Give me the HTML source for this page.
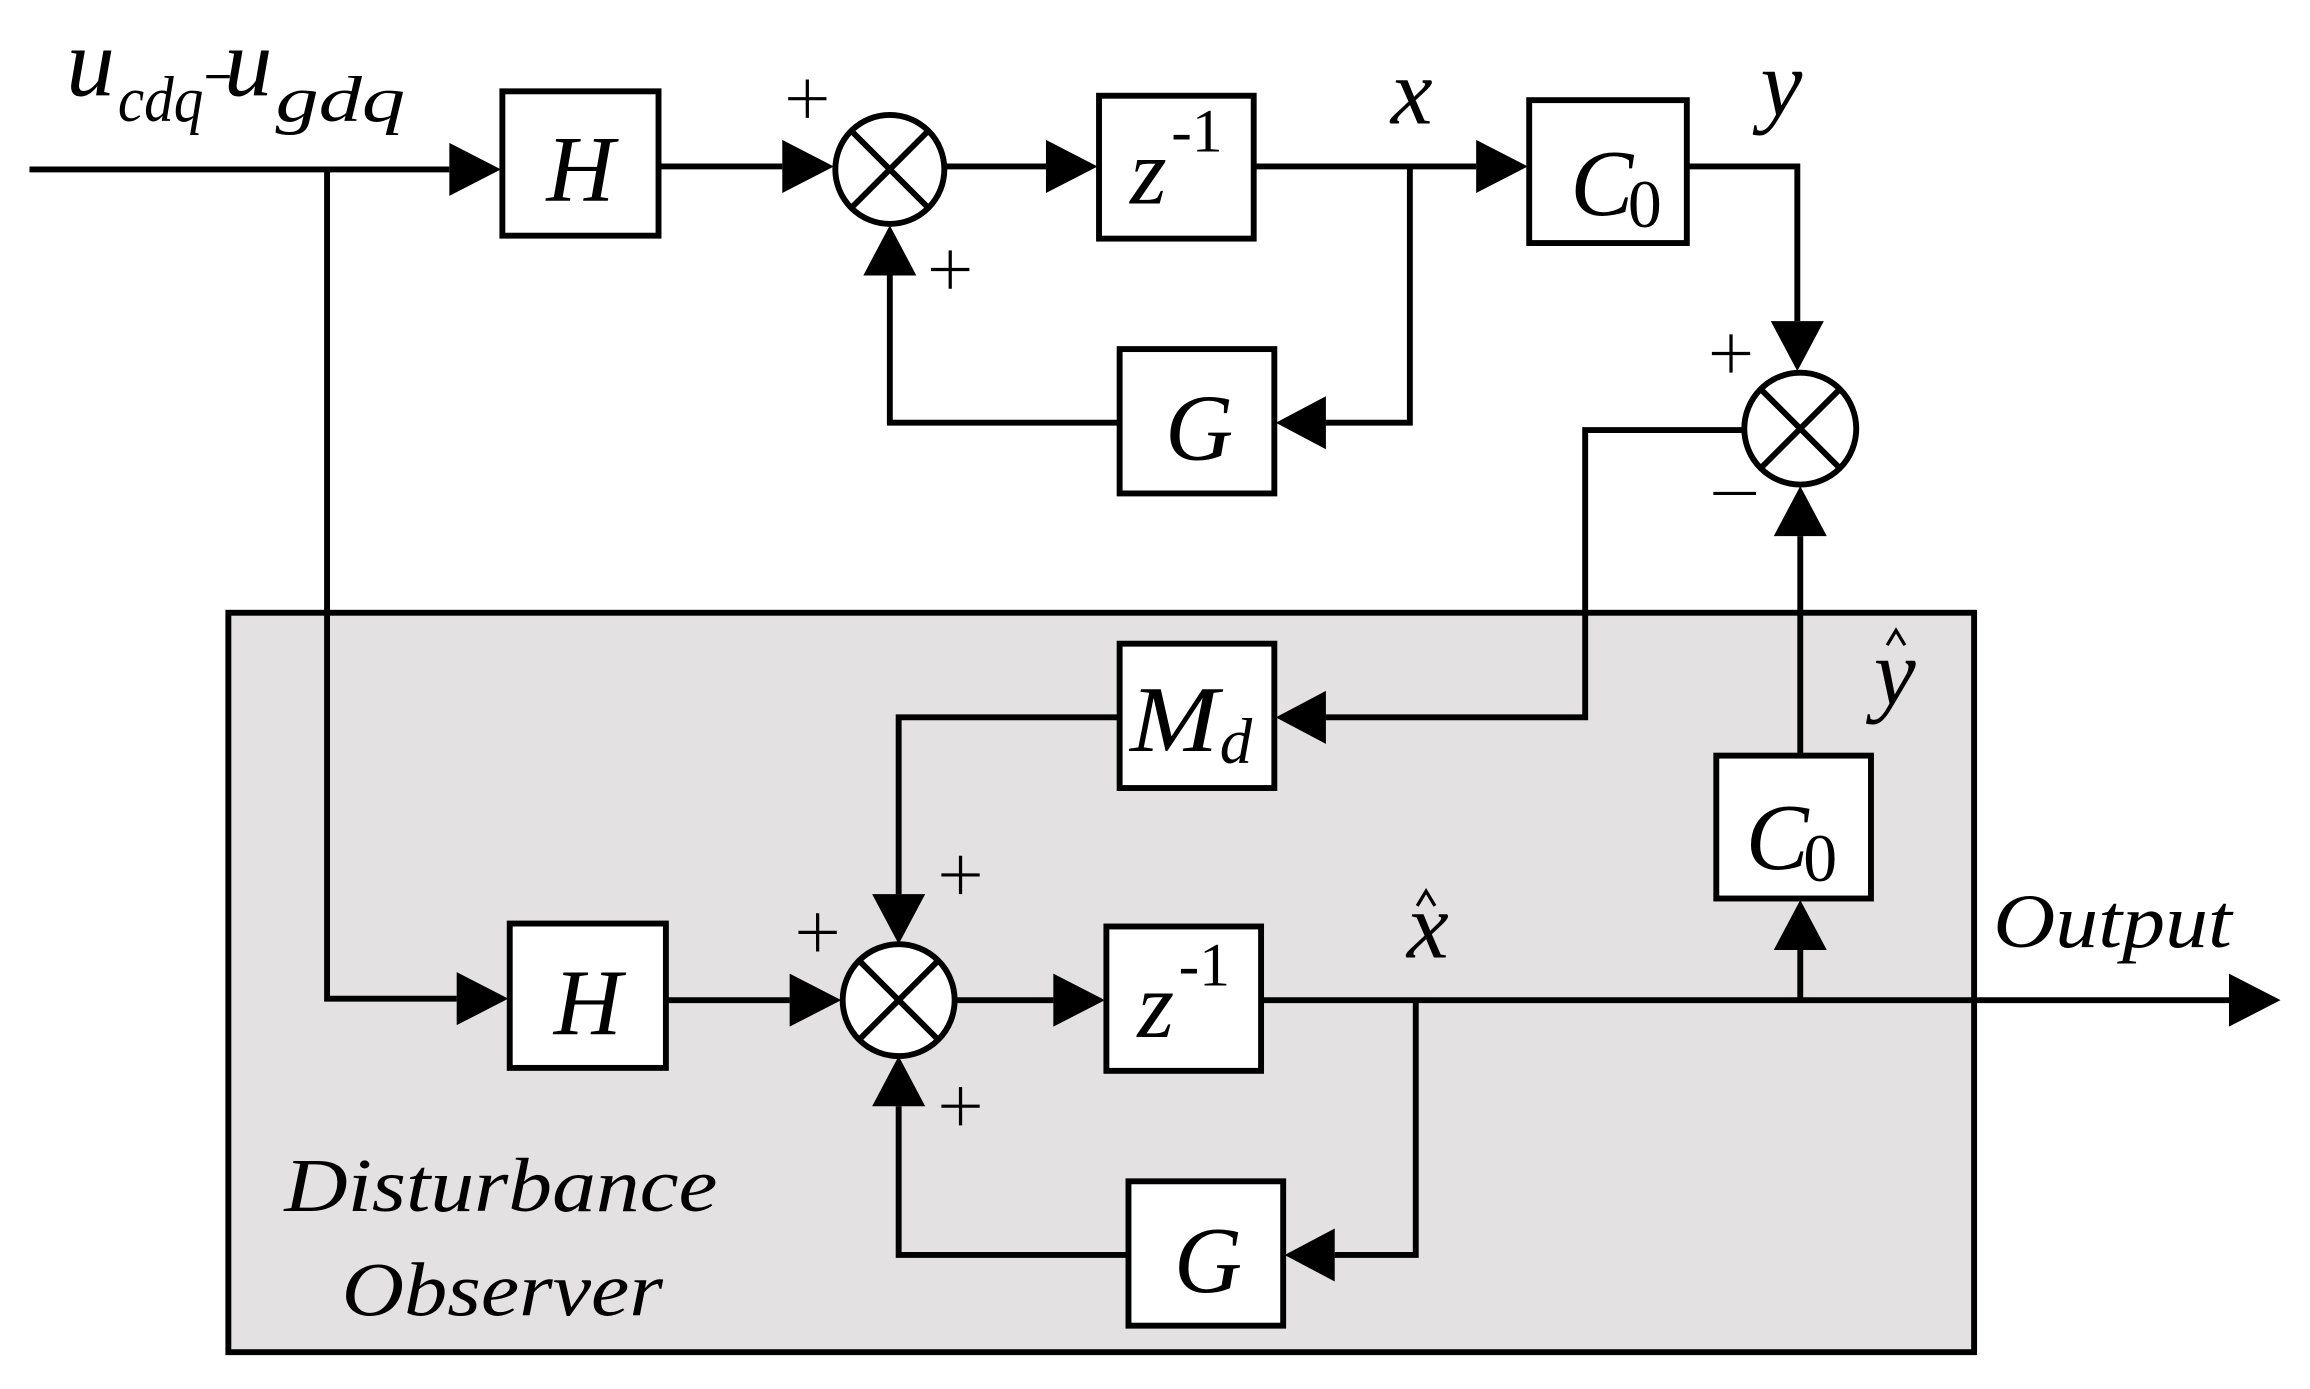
<!DOCTYPE html>
<html><head><meta charset="utf-8"><style>html,body{margin:0;padding:0;background:#fff}svg{display:block}
svg text{font-family:"Liberation Serif",serif;font-style:italic}
.l{stroke:#000;stroke-width:4;fill:none}.b{stroke:#000;stroke-width:4;fill:#fff}.t{font-size:64px}
.n{font-style:normal !important}</style></head>
<body>
<svg width="2310" height="1389" viewBox="0 0 1568 943" preserveAspectRatio="none" xmlns="http://www.w3.org/2000/svg">
<rect x="155" y="416" width="1185" height="502" fill="#e3e1e2" stroke="#000" stroke-width="4"/>
<g class="l">
<path d="M20,115 H305"/>
<path d="M222,115 V678 H310"/>
<path d="M447,113 H531"/>
<path d="M641,113 H710"/>
<path d="M851,113 H1002"/>
<path d="M957,113 V287 H900"/>
<path d="M760,287 H604 V187"/>
<path d="M1145,113 H1220 V218"/>
<path d="M1185,292 H1076 V487 H900"/>
<path d="M760,487 H610 V607"/>
<path d="M452,679 H536"/>
<path d="M648,679 H715"/>
<path d="M856,679 H1513"/>
<path d="M961,679 V852 H906"/>
<path d="M766,852 H610 V751"/>
<path d="M1222,679 V645"/>
<path d="M1222,513 V364"/>
</g>
<g fill="#000">
<polygon points="305,97 340,115 305,133"/>
<polygon points="531,95 566,113 531,131"/>
<polygon points="710,95 745,113 710,131"/>
<polygon points="1002,95 1037,113 1002,131"/>
<polygon points="900,269 866,287 900,305"/>
<polygon points="586,187 604,153 622,187"/>
<polygon points="1202,218 1220,252 1238,218"/>
<polygon points="1204,364 1222,330 1240,364"/>
<polygon points="900,469 866,487 900,505"/>
<polygon points="592,607 610,641 628,607"/>
<polygon points="310,660 345,678 310,696"/>
<polygon points="536,661 571,679 536,697"/>
<polygon points="715,661 750,679 715,697"/>
<polygon points="592,751 610,717 628,751"/>
<polygon points="906,834 872,852 906,870"/>
<polygon points="1204,645 1222,611 1240,645"/>
<polygon points="1513,661 1548,679 1513,697"/>
</g>
<g class="b">
<rect x="341" y="62" width="106" height="98"/>
<rect x="746" y="65" width="105" height="97"/>
<rect x="1038" y="68" width="107" height="97"/>
<rect x="760" y="237" width="105" height="98"/>
<rect x="760" y="437" width="105" height="98"/>
<rect x="1165" y="513" width="105" height="97"/>
<rect x="346" y="627" width="106" height="98"/>
<rect x="751" y="629" width="105" height="98"/>
<rect x="766" y="802" width="105" height="98"/>
</g>
<g class="b">
<circle cx="604" cy="115" r="37"/><path d="M578,89 L630,141 M630,89 L578,141"/>
<circle cx="1222" cy="291" r="38"/><path d="M1195,264 L1249,318 M1249,264 L1195,318"/>
<circle cx="610" cy="679" r="38"/><path d="M583,652 L637,706 M637,652 L583,706"/>
</g>
<g class="t">
<text x="394" y="136" text-anchor="middle">H</text>
<text x="399" y="702" text-anchor="middle">H</text>
<text x="767" y="138">z</text><text x="795" y="103" font-size="42" class="n">-1</text>
<text x="772" y="704">z</text><text x="800" y="669" font-size="42" class="n">-1</text>
<text x="1066" y="146">C</text><text x="1105" y="154" font-size="46" class="n">0</text>
<text x="1185" y="590">C</text><text x="1224" y="598" font-size="46" class="n">0</text>
<text x="814" y="312" text-anchor="middle">G</text>
<text x="820" y="877" text-anchor="middle">G</text>
<text x="767" y="510" textLength="60" lengthAdjust="spacingAndGlyphs">M</text><text x="828" y="518" font-size="44">d</text>
<text x="944" y="84">x</text>
<text x="1195" y="78">y</text>
<text x="955" y="650">x</text>
<text x="1272" y="478">y</text>
<text x="1353" y="643" font-size="52" textLength="162" lengthAdjust="spacingAndGlyphs">Output</text>
<text x="193" y="822" font-size="52" textLength="294" lengthAdjust="spacingAndGlyphs">Disturbance</text>
<text x="232" y="893" font-size="52" textLength="218" lengthAdjust="spacingAndGlyphs">Observer</text>
<text x="45" y="65" font-size="66">u</text><text x="80" y="82" font-size="44" textLength="58" lengthAdjust="spacingAndGlyphs">cdq</text>
<text x="152" y="65" font-size="66">u</text><text x="187" y="82" font-size="44" textLength="88" lengthAdjust="spacingAndGlyphs">gdq</text>
</g>
<g stroke="#000" stroke-width="2.2" fill="none">
<path d="M140,52 H156"/>
<path d="M962,615 L968,605 L974,615"/>
<path d="M1281,438 L1287,428 L1293,438"/>
<path d="M548,54 V80 M535,67 H561"/>
<path d="M645,170 V196 M632,183 H658"/>
<path d="M1175,227 V253 M1162,240 H1188"/>
<path d="M1163,335 H1192"/>
<path d="M652,581 V607 M639,594 H665"/>
<path d="M555,620 V646 M542,633 H568"/>
<path d="M652,738 V764 M639,751 H665"/>
</g>
</svg>
</body></html>
